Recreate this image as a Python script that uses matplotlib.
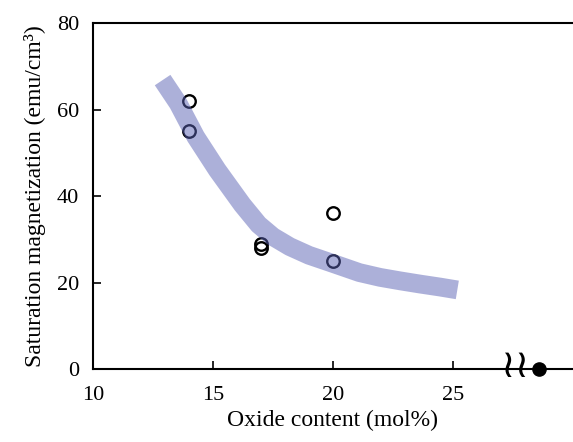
import matplotlib
matplotlib.use('Agg')
import matplotlib.pyplot as plt

# measured points
oxide = [14, 14, 17, 17, 20, 20]
ms_val = [62, 55, 29, 28, 36, 25]

# guide band (read along the centre of the thick line)
band_x = [12.9, 13.55, 14.28, 15.18, 16.22, 16.9, 17.5, 18.2, 19.0, 19.9,
          21.1, 21.96, 22.79, 23.63, 24.46, 25.18]
band_y = [66.8, 61.4, 53.7, 46.0, 38.0, 33.4, 30.6, 28.3, 26.3, 24.6,
          22.3, 21.2, 20.4, 19.65, 18.96, 18.3]

# reference sample shown beyond the axis break
ref_x = [28.6]
ref_y = [0]

xticks = [10, 15, 20, 25]
yticks = [0, 20, 40, 60, 80]

plt.rcParams['font.family'] = ['Liberation Serif', 'DejaVu Serif']

fig = plt.figure(figsize=(5.73, 4.42), dpi=100)
ax = fig.add_axes([0.1623, 0.165, 0.8377, 0.783])

ax.plot(oxide, ms_val, 'o', ms=9, mfc='none', mec='black', mew=1.7, zorder=2)
ax.plot(band_x, band_y, '-', color='#5b62b5', alpha=0.5, lw=13.5,
        solid_capstyle='butt', solid_joinstyle='round', zorder=3)
ax.plot(ref_x, ref_y, 'o', ms=9.5, color='black', clip_on=False, zorder=5)

# axis break marks
ax.text(27.55, 0.6, '\u2240\u2240', fontsize=28, family='DejaVu Sans',
        ha='center', va='center', clip_on=False, zorder=4)

ax.set_xlim(10, 30)
ax.set_ylim(0, 80)
ax.set_xticks(xticks)
ax.set_yticks(yticks)
ax.tick_params(direction='in', length=6, width=1.2, labelsize=16, pad=10)
ax.tick_params(axis='x', pad=12)
for s in ['left', 'bottom', 'top']:
    ax.spines[s].set_linewidth(1.5)
ax.spines['right'].set_visible(False)

ax.set_xlabel('Oxide content (mol%)', fontsize=17, labelpad=4)
ax.set_ylabel('Saturation magnetization (emu/cm\u00b3)', fontsize=17, labelpad=8)

fig.savefig('out.png', dpi=100)
